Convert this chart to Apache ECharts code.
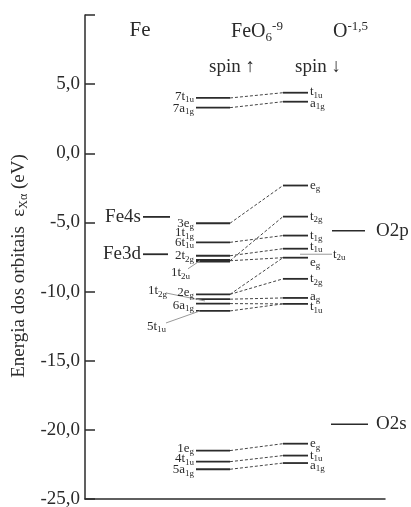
<!DOCTYPE html>
<html>
<head>
<meta charset="utf-8">
<script src="https://cdn.jsdelivr.net/npm/echarts@6/dist/echarts.min.js"></script>
<style>
html, body { margin: 0; padding: 0; background: #fff; }
#container { width: 411px; height: 507px; }
</style>
</head>
<body>
<div id="container"></div>
<script>
// energias (eV)
var upEnergies = [4.0, 3.3, -5.06, -6.44, -7.41, -10.2, -10.55, -10.87, -11.4, -21.5, -22.3, -22.85];
var upThick = [-7.77];
var downEnergies = [4.38, 3.73, -2.33, -4.58, -5.95, -6.90, -7.55, -9.08, -10.46, -10.89, -21.0, -21.86, -22.4];
var atomFe = [['Fe4s', -4.6], ['Fe3d', -7.3]];
var atomO = [['O2p', -5.6], ['O2s', -19.6]];
// ligações tracejadas [spin up, spin down]
var links = [[4.0, 4.38], [3.3, 3.73], [-5.06, -2.33], [-7.77, -4.58], [-6.44, -5.95], [-7.41, -6.90],
	[-7.77, -7.55], [-10.2, -7.55], [-10.2, -9.08], [-10.55, -10.46], [-10.87, -10.89], [-11.4, -10.89],
	[-21.5, -21.0], [-22.3, -21.86], [-22.85, -22.4]];
// rótulos [texto, índice, energia do rótulo]
var upLabels = [['7t', '1u', 4.1], ['7a', '1g', 3.25], ['3e', 'g', -5.06], ['1t', '1g', -5.74], ['6t', '1u', -6.44],
	['2t', '2g', -7.41], ['2e', 'g', -10.05], ['6a', '1g', -11.0], ['1e', 'g', -21.35], ['4t', '1u', -22.1], ['5a', '1g', -22.9]];
var upLabelsFar = [['1t', '2u', -8.64, 190], ['1t', '2g', -9.95, 167], ['5t', '1u', -12.5, 166]];
var downLabels = [['t', '1u', 4.45], ['a', '1g', 3.6], ['e', 'g', -2.33], ['t', '2g', -4.58], ['t', '1g', -5.95],
	['t', '1u', -6.75], ['e', 'g', -7.9], ['t', '2g', -9.08], ['a', 'g', -10.35], ['t', '1u', -11.1],
	['e', 'g', -21.0], ['t', '1u', -21.86], ['a', '1g', -22.55]];
var yTicks = [-25, -20, -15, -10, -5, 0, 5];

var serif = 'Liberation Serif';
var ink = '#2b2b2b';
var rich = {
	b: { fontFamily: serif, fontSize: 13, color: ink },
	s: { fontFamily: serif, fontSize: 9, color: ink, padding: [7, 0, 0, 0] },
	B: { fontFamily: serif, fontSize: 20, color: ink },
	S: { fontFamily: serif, fontSize: 13, color: ink, padding: [11, 0, 0, 0] },
	P: { fontFamily: serif, fontSize: 13, color: ink, padding: [0, 0, 11, 0] }
};

function lab(a, b) { return '{b|' + a + '}{s|' + b + '}'; }

function renderAll(params, api) {
	var kids = [];
	function hline(x1, x2, e, w, col) {
		var p1 = api.coord([x1, e]), p2 = api.coord([x2, e]);
		kids.push({ type: 'line', shape: { x1: p1[0], y1: p1[1], x2: p2[0], y2: p2[1] },
			style: { stroke: col || ink, lineWidth: w || 1.8 } });
	}
	function seg(x1, e1, x2, e2, col, dash) {
		var p1 = api.coord([x1, e1]), p2 = api.coord([x2, e2]);
		kids.push({ type: 'line', shape: { x1: p1[0], y1: p1[1], x2: p2[0], y2: p2[1] },
			style: { stroke: col, lineWidth: 1, lineDash: dash || null } });
	}
	function text(x, e, t, align, extra) {
		var p = api.coord([x, e]);
		kids.push({ type: 'text', x: p[0], y: p[1],
			style: Object.assign({ text: t, rich: rich, align: align, verticalAlign: 'middle',
				fontFamily: serif, fontSize: 13, fill: ink }, extra || {}) });
	}
	upEnergies.forEach(function (e) { hline(196, 230, e); });
	upThick.forEach(function (e) { hline(196, 230, e, 3.5); });
	downEnergies.forEach(function (e) { hline(283, 308, e); });
	links.forEach(function (l) { seg(230, l[0], 283, l[1], '#444', [3, 2]); });
	// linhas indicadoras
	seg(188, -8.35, 200, -7.77, '#999');
	seg(166, -10.1, 205, -10.68, '#999');
	seg(166, -12.27, 200, -11.4, '#999');
	seg(300, -7.3, 332, -7.3, '#999');
	// níveis atômicos
	hline(143, 170, atomFe[0][1], 1.8);
	hline(143, 168, atomFe[1][1], 1.8);
	hline(332, 365, atomO[0][1], 1.5);
	hline(331, 368, atomO[1][1], 1.5);
	atomFe.forEach(function (a) { text(141, a[1], a[0], 'right', { fontSize: 19 }); });
	atomO.forEach(function (a) { text(376, a[1], a[0], 'left', { fontSize: 19 }); });
	upLabels.forEach(function (l) { text(194, l[2], lab(l[0], l[1]), 'right'); });
	upLabelsFar.forEach(function (l) { text(l[3], l[2], lab(l[0], l[1]), 'right'); });
	downLabels.forEach(function (l) { text(310, l[2], lab(l[0], l[1]), 'left'); });
	text(333, -7.3, lab('t', '2u'), 'left');
	// cabeçalhos
	text(140, 8.9, 'Fe', 'center', { fontSize: 21 });
	text(257, 8.8, '{B|FeO}{S|6}{P|-9}', 'center');
	text(333, 8.8, '{B|O}{P|-1,5}', 'left');
	text(232, 6.25, 'spin \u2191', 'center', { fontSize: 19 });
	text(318, 6.25, 'spin \u2193', 'center', { fontSize: 19 });
	return { type: 'group', children: kids };
}

var dom = document.getElementById('container');
var myChart = echarts.init(dom);
var option = {
	animation: false,
	grid: { left: 85, right: 26, top: 15, bottom: 8, containLabel: false, outerBoundsMode: 'none' },
	xAxis: {
		type: 'value', min: 85, max: 385,
		axisLine: { show: true, onZero: false, lineStyle: { color: ink, width: 1.5 } },
		axisTick: { show: false }, axisLabel: { show: false }, splitLine: { show: false }
	},
	yAxis: {
		type: 'value', min: -25, max: 10, interval: 5,
		name: '{n|Energia dos orbitais  \u03b5}{x|X\u03b1}{n| (eV)}',
		nameLocation: 'middle', nameGap: 53, nameRotate: 90,
		nameTextStyle: {
			padding: [0, 18, 0, 0],
			rich: {
				n: { fontFamily: serif, fontSize: 19, color: ink },
				x: { fontFamily: serif, fontSize: 12, color: ink, padding: [9, 0, 0, 0] }
			}
		},
		axisLine: { show: true, lineStyle: { color: ink, width: 1.5 } },
		axisTick: { show: true, inside: true, length: 10, lineStyle: { color: ink, width: 1.5 } },
		axisLabel: {
			fontFamily: serif, fontSize: 19, color: ink, margin: 5,
			formatter: function (v) { return yTicks.indexOf(v) < 0 ? '' : v.toFixed(1).replace('.', ','); }
		},
		splitLine: { show: false }
	},
	series: [{
		type: 'custom', coordinateSystem: 'cartesian2d', data: [[0, 0]],
		renderItem: renderAll, silent: true, clip: false
	}]
};
myChart.setOption(option);
</script>
</body>
</html>
